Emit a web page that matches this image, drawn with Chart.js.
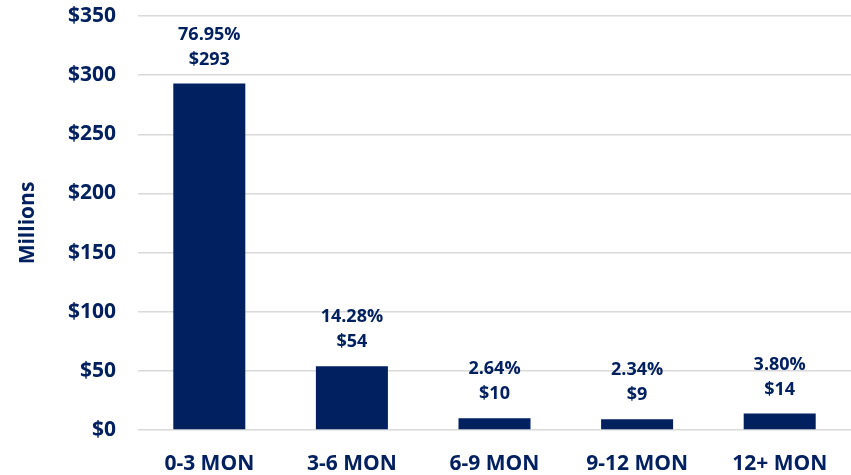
<!DOCTYPE html>
<html>
<head>
<meta charset="utf-8">
<script src="https://cdn.jsdelivr.net/npm/chart.js@4"></script>
<style>
  html, body { margin: 0; padding: 0; background: #fff; }
  #wrap { width: 851px; height: 475px; }
</style>
</head>
<body>
<div id="wrap"><canvas id="agingChart" width="851" height="475"></canvas></div>
<script>
// datos del grafico (millones)
const categories = ['0-3 MON', '3-6 MON', '6-9 MON', '9-12 MON', '12+ MON'];
const amounts = [293, 54, 10, 9, 14];
const shares = ['76.95%', '14.28%', '2.64%', '2.34%', '3.80%'];
const amountLabels = ['$293', '$54', '$10', '$9', '$14'];

const navy = '#002060';
const font = "'Open Sans', 'Noto Sans', sans-serif";

// etiquetas encima de cada barra (porcentaje y monto)
const barLabels = {
    id: 'barLabels',
    afterDatasetsDraw(chart) {
        const ctx = chart.ctx;
        const meta = chart.getDatasetMeta(0);
        ctx.save();
        ctx.fillStyle = navy;
        ctx.font = 'bold 18px ' + font;
        ctx.textAlign = 'center';
        ctx.textBaseline = 'middle';
        meta.data.forEach((bar, i) => {
            ctx.fillText(shares[i], bar.x, bar.y - 49);
            ctx.fillText(amountLabels[i], bar.x, bar.y - 24);
        });
        ctx.restore();
    }
};

const ctx = document.getElementById('agingChart').getContext('2d');
const agingChart = new Chart(ctx, {
    type: 'bar',
    data: {
        labels: categories,
        datasets: [{
            data: amounts,
            backgroundColor: navy,
            barPercentage: 0.505,
            categoryPercentage: 1.0
        }]
    },
    options: {
        responsive: false,
        animation: false,
        layout: { padding: { top: 16, right: 0, bottom: 0, left: 0 } },
        plugins: {
            legend: { display: false },
            tooltip: { enabled: false }
        },
        scales: {
            x: {
                grid: { display: false },
                border: { display: false },
                ticks: {
                    color: navy,
                    font: { family: font, size: 21, weight: 'bold' },
                    padding: 13
                },
                afterFit(scale) { scale.height = 45; }
            },
            y: {
                min: 0,
                max: 350,
                ticks: {
                    stepSize: 50,
                    color: navy,
                    padding: 22,
                    font: { family: font, size: 21, weight: 'bold' },
                    callback: (v) => '$' + v
                },
                grid: { color: '#d9d9d9', lineWidth: 1.5, drawTicks: false },
                border: { display: false },
                title: {
                    display: true,
                    text: 'Millions',
                    color: navy,
                    font: { family: font, size: 21, weight: 'bold' },
                    padding: { top: 15, bottom: 0 }
                },
                afterFit(scale) {
                    scale.width = 138;
                    scale.paddingTop = 0;
                    scale.paddingBottom = 0;
                }
            }
        }
    },
    plugins: [barLabels]
});
</script>
</body>
</html>
